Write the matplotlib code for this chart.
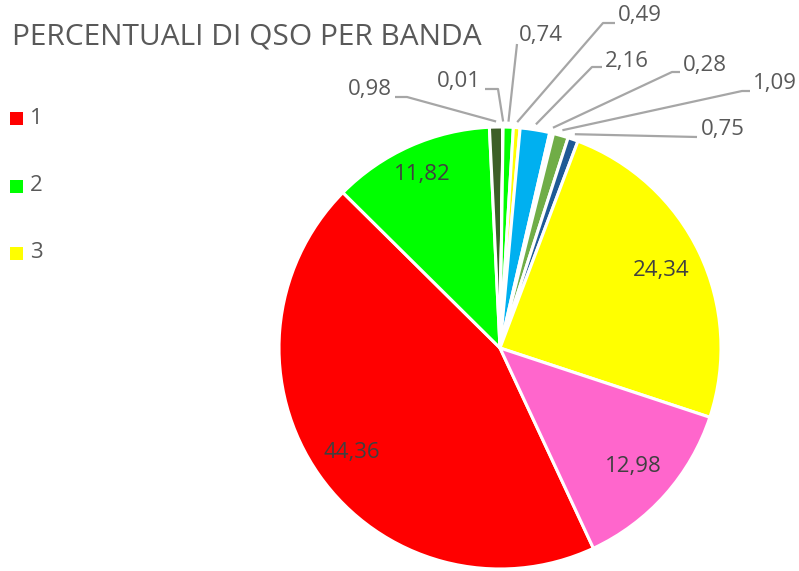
import matplotlib
matplotlib.use("Agg")
import matplotlib.pyplot as plt
import numpy as np

# Share of QSOs per band (percent), listed clockwise starting from the red slice
bands = ["1", "2", "3", "4", "5", "6", "7", "8", "9", "10", "11", "12"]
values = [44.36, 11.82, 0.98, 0.01, 0.74, 0.49, 2.16, 0.28, 1.09, 0.75, 24.34, 12.98]
colors = ["#FF0000", "#00FF00", "#3D5F27", "#8FAADC", "#00FF00", "#FFFF00",
          "#00B0F0", "#FFFFFF", "#70AD47", "#1F5A96", "#FFFF00", "#FF66CC"]
legend_bands = ["1", "2", "3"]
legend_colors = ["#FF0000", "#00FF00", "#FFFF00"]

W, H = 799, 571
FONT = "Open Sans"
TXT = "#595959"

fig = plt.figure(figsize=(W / 100, H / 100), dpi=100)
ax = fig.add_axes([0, 0, 1, 1])


def P(x, y):
    """Pixel position measured from the top-left corner -> axes coords."""
    return (x, H - y)


cx, cy = P(500, 348)
R = 221
wedges, _ = ax.pie(values, colors=colors, startangle=-65, counterclock=False,
                   center=(cx, cy), radius=R, frame=True,
                   wedgeprops=dict(edgecolor="white", linewidth=2.2))
ax.set_xlim(0, W)
ax.set_ylim(0, H)
ax.set_aspect("equal")
ax.axis("off")


def fmt(v):
    return f"{v:.2f}".replace(".", ",")


def mid_angle(w):
    return np.deg2rad((w.theta1 + w.theta2) / 2)


# Values printed inside the large slices
inside = {0: 0.82, 1: 0.86, 10: 0.81, 11: 0.81}
for i, frac in inside.items():
    a = mid_angle(wedges[i])
    ax.text(cx + frac * R * np.cos(a), cy + frac * R * np.sin(a), fmt(values[i]),
            ha="center", va="center", fontsize=16, family=FONT, color="#404040")

# Values of the thin slices with leader lines: (text centre, elbow points)
outside = {
    2: ((370, 90), [(407, 97), (395, 97)]),
    3: ((459, 81), [(498, 89), (485, 89)]),
    4: ((541, 35), [(517, 44)]),
    5: ((640, 16), [(603, 23), (615, 23)]),
    6: ((627, 61), [(592, 67), (602, 67)]),
    7: ((705, 65), [(672, 72), (680, 72)]),
    8: ((775, 84), [(742, 91), (750, 91)]),
    9: ((723, 130), [(697, 137)]),
}
for i, (tpos, elbows) in outside.items():
    a = mid_angle(wedges[i])
    start = (cx + 1.025 * R * np.cos(a), cy + 1.025 * R * np.sin(a))
    pts = [start] + [P(*e) for e in elbows]
    xs, ys = zip(*pts)
    ax.plot(xs, ys, color="#A6A6A6", lw=1.6, solid_capstyle="butt", zorder=1)
    ax.text(*P(*tpos), fmt(values[i]), ha="center", va="center",
            fontsize=16, family=FONT, color=TXT)

# Title
ax.text(*P(12, 37), "PERCENTUALI DI QSO PER BANDA", ha="left", va="center",
        fontsize=21.5, family=FONT, color=TXT)

# Legend (first three bands)
for k, (lab, col) in enumerate(zip(legend_bands, legend_colors)):
    yy = 118 + k * 67.5
    ax.add_patch(plt.Rectangle(P(10, yy + 7), 13, 13, facecolor=col,
                               edgecolor="none"))
    ax.text(*P(30, yy), lab, ha="left", va="center", fontsize=16,
            family=FONT, color=TXT)

fig.savefig("out.png", dpi=100)
